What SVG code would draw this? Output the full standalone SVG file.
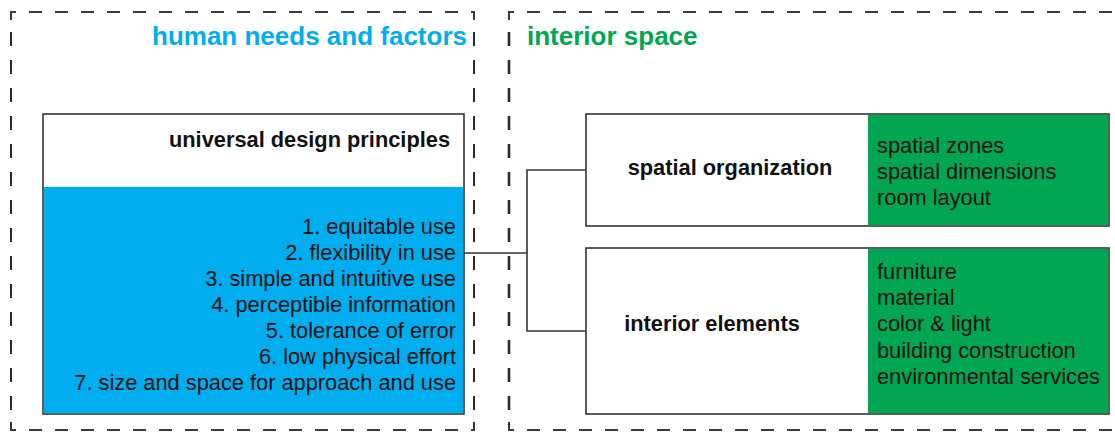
<svg xmlns="http://www.w3.org/2000/svg" width="1115" height="434" viewBox="0 0 1115 434">
<style>
.hd{stroke:#3a3a3a;stroke-width:2;fill:none;stroke-dasharray:13 13}
.vd{stroke:#2a2a2a;stroke-width:2;fill:none;stroke-dasharray:14 14}
.box{stroke:#333;stroke-width:1.6}
.title{font-family:"Liberation Sans",Arial,sans-serif;font-weight:bold;font-size:26px}
.lbl{font-family:"Liberation Sans",Arial,sans-serif;font-weight:bold;font-size:21.8px;fill:#111}
.txt{font-family:"Liberation Sans",Arial,sans-serif;font-size:21.8px;fill:#111}
.conn{stroke:#333;stroke-width:1.6;fill:none}
</style>
<rect width="1115" height="434" fill="#fff"/>
<g id="frame-human">
<path class="hd" d="M11 20 V12 H474 V20"/>
<path class="hd" d="M11 422 V430 H474 V422"/>
<line class="vd" x1="11" y1="32" x2="11" y2="425"/>
<line class="vd" x1="474" y1="32" x2="474" y2="425"/>
<text class="title" x="467" y="45" text-anchor="end" fill="#00AEEF">human needs and factors</text>
</g>
<g id="frame-interior">
<path class="hd" d="M509 20 V12 H1115"/>
<path class="hd" d="M509 422 V430 H1115"/>
<line class="vd" x1="509" y1="32" x2="509" y2="425" style="stroke-width:2.6"/>
<text class="title" x="527" y="45" fill="#00A651">interior space</text>
</g>
<g id="connectors">
<path class="conn" d="M464 253 H527"/>
<path class="conn" d="M586 170 H527 V331 H586"/>
</g>
<g id="udp">
<rect x="43" y="114" width="421" height="300" fill="#fff" class="box"/>
<rect x="43.8" y="187" width="419.4" height="226.2" fill="#00AEEF"/>
<text class="lbl" x="450" y="147" text-anchor="end">universal design principles</text>
<g class="txt" text-anchor="end">
<text x="456" y="234">1. equitable use</text>
<text x="456" y="260">2. flexibility in use</text>
<text x="456" y="286">3. simple and intuitive use</text>
<text x="456" y="312">4. perceptible information</text>
<text x="456" y="338">5. tolerance of error</text>
<text x="456" y="364">6. low physical effort</text>
<text x="456" y="390">7. size and space for approach and use</text>
</g>
</g>
<g id="spatial-organization">
<rect x="586" y="114" width="523" height="112" fill="#fff" class="box"/>
<rect x="868" y="114.8" width="240.2" height="110.4" fill="#00A651"/>
<text class="lbl" x="730" y="175" text-anchor="middle">spatial organization</text>
<g class="txt">
<text x="877" y="153">spatial zones</text>
<text x="877" y="179">spatial dimensions</text>
<text x="877" y="205">room layout</text>
</g>
</g>
<g id="interior-elements">
<rect x="586" y="248" width="523" height="166" fill="#fff" class="box"/>
<rect x="868" y="248.8" width="240.2" height="164.4" fill="#00A651"/>
<text class="lbl" x="712" y="331" text-anchor="middle">interior elements</text>
<g class="txt">
<text x="877" y="279">furniture</text>
<text x="877" y="305">material</text>
<text x="877" y="331">color &amp; light</text>
<text x="877" y="358">building construction</text>
<text x="877" y="384">environmental services</text>
</g>
</g>
</svg>
